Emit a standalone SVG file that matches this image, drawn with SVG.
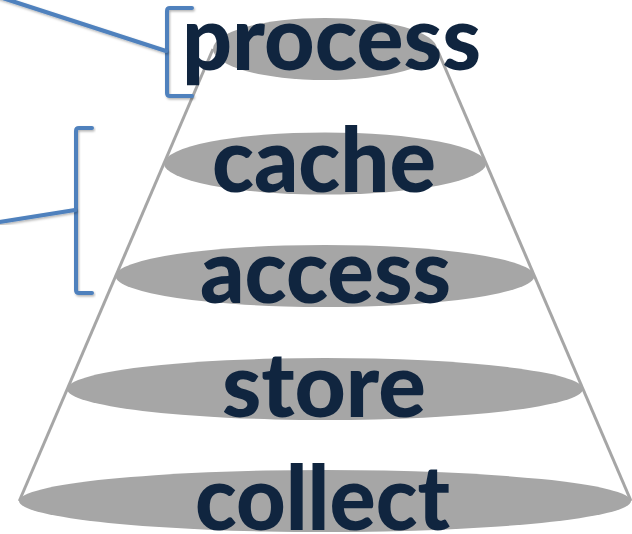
<svg xmlns="http://www.w3.org/2000/svg" width="632" height="534" viewBox="0 0 632 534">
  <defs>
    <filter id="sh" x="-20%" y="-20%" width="140%" height="140%">
      <feDropShadow dx="1" dy="1.5" stdDeviation="1.2" flood-color="#000" flood-opacity="0.3"/>
    </filter>
  </defs>
  <style>
    .disk { fill: #A6A6A6; }
    .cone { stroke: #A6A6A6; stroke-width: 3; fill: none; }
    .lbl { font-family: Lato, "Open Sans", "Liberation Sans", sans-serif; font-weight: 900; font-size: 90px; fill: #10253F; text-anchor: middle; }
    .br { stroke: #4F81BD; stroke-width: 4; fill: none; stroke-linejoin: round; stroke-linecap: round; filter: url(#sh); }
  </style>
  <rect width="632" height="534" fill="#FFFFFF"/>
  <g id="cone">
    <line class="cone" x1="213" y1="49" x2="19.3" y2="501"/>
    <line class="cone" x1="437" y1="49" x2="631" y2="501"/>
  </g>
  <g id="collect">
    <ellipse class="disk" cx="325" cy="501" rx="306" ry="31"/>
    <text class="lbl" x="322.5" y="530" textLength="255" lengthAdjust="spacingAndGlyphs">collect</text>
  </g>
  <g id="store">
    <ellipse class="disk" cx="325" cy="389" rx="258" ry="31"/>
    <text class="lbl" x="324" y="417" textLength="204" lengthAdjust="spacingAndGlyphs">store</text>
  </g>
  <g id="access">
    <ellipse class="disk" cx="325" cy="276" rx="209.5" ry="31"/>
    <text class="lbl" x="325.5" y="303" textLength="251" lengthAdjust="spacingAndGlyphs">access</text>
  </g>
  <g id="cache">
    <ellipse class="disk" cx="325" cy="163.5" rx="161" ry="31"/>
    <text class="lbl" x="324" y="192" textLength="224" lengthAdjust="spacingAndGlyphs">cache</text>
  </g>
  <g id="process">
    <ellipse class="disk" cx="325" cy="49" rx="112" ry="31"/>
    <text class="lbl" x="331.5" y="70" textLength="299" lengthAdjust="spacingAndGlyphs">process</text>
  </g>
  <g id="connectors">
    <path class="br" d="M192,8 L170,8 Q167,8 167,11 L167,93 Q167,96 170,96 L192,96"/>
    <line class="br" x1="-2" y1="-3.5" x2="166" y2="51"/>
    <path class="br" d="M92,128 L79,128 Q76,128 76,131 L76,290 Q76,293 79,293 L92,293"/>
    <line class="br" x1="-2" y1="222.3" x2="75" y2="210"/>
  </g>
</svg>
